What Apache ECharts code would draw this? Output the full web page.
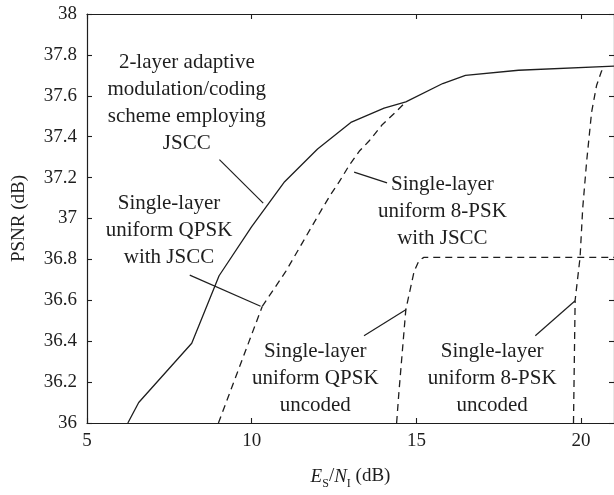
<!DOCTYPE html>
<html>
<head>
<meta charset="utf-8">
<script src="https://cdn.jsdelivr.net/npm/echarts@6/dist/echarts.min.js"></script>
<style>
  html, body { margin: 0; padding: 0; background: #fff; }
  #chart { width: 614px; height: 495px; }
</style>
</head>
<body>
<div id="chart"></div>
<script>
// Axis ranges (E_S/N_I in dB on x, PSNR in dB on y)
const xRange = [5, 21];
const xStep = 5;
const yRange = [36, 38];
const yStep = 0.2;

// 2-layer adaptive modulation/coding scheme employing JSCC
const adaptiveEsNi = [6.24, 6.57, 8.18, 9.01, 10.0, 11.0, 12.0, 13.01, 14.02, 14.68, 15.8, 16.49, 18.1, 21.0];
const adaptivePsnr = [36.0, 36.10, 36.39, 36.72, 36.96, 37.18, 37.34, 37.47, 37.54, 37.57, 37.66, 37.70, 37.725, 37.745];

// Single-layer uniform QPSK with JSCC
const qpskJsccEsNi = [8.99, 10.32];
const qpskJsccPsnr = [36.0, 36.57];

// Single-layer uniform 8-PSK with JSCC
const psk8JsccEsNi = [10.32, 11.03, 12.11, 12.41, 12.66, 12.96, 13.27, 13.57, 13.97, 14.37, 14.68];
const psk8JsccPsnr = [36.57, 36.74, 37.04, 37.12, 37.18, 37.26, 37.33, 37.38, 37.46, 37.52, 37.57];

// Single-layer uniform QPSK uncoded
const qpskUncodedEsNi = [14.40, 14.47, 14.68, 14.93, 15.08, 15.23, 21.0];
const qpskUncodedPsnr = [36.0, 36.15, 36.555, 36.74, 36.795, 36.81, 36.81];

// Single-layer uniform 8-PSK uncoded
const psk8UncodedEsNi = [19.77, 19.82, 19.97, 20.05, 20.17, 20.32, 20.47, 20.62, 20.72];
const psk8UncodedPsnr = [36.0, 36.6, 36.81, 37.05, 37.28, 37.52, 37.65, 37.72, 37.744];

// Curve annotations: text block centre and leader line, in data units
const notes = [
  { text: '2-layer adaptive\nmodulation/coding\nscheme employing\nJSCC', at: [8.03, 37.563], from: [9.02, 37.288], to: [10.35, 37.075] },
  { text: 'Single-layer\nuniform QPSK\nwith JSCC', at: [7.49, 36.942], from: [8.12, 36.723], to: [10.27, 36.571] },
  { text: 'Single-layer\nuniform 8-PSK\nwith JSCC', at: [15.79, 37.035], from: [13.11, 37.227], to: [14.11, 37.174] },
  { text: 'Single-layer\nuniform QPSK\nuncoded', at: [11.93, 36.219], from: [13.41, 36.427], to: [14.69, 36.555] },
  { text: 'Single-layer\nuniform 8-PSK\nuncoded', at: [17.30, 36.219], from: [18.61, 36.427], to: [19.82, 36.598] }
];

const zip = (xs, ys) => xs.map((x, i) => [x, ys[i]]);

const FONT = '"Liberation Serif", "DejaVu Serif", serif';
const INK = '#1e1e1e';

const chart = echarts.init(document.getElementById('chart'), null, { renderer: 'canvas' });

const axisLine = { show: true, lineStyle: { color: INK, width: 1.2 } };
const axisTick = { show: true, inside: true, length: 5, lineStyle: { color: INK, width: 1.1 } };

function lineSeries(name, xs, ys, dashed) {
  return {
    name: name,
    type: 'line',
    data: zip(xs, ys),
    symbol: 'none',
    smooth: false,
    clip: true,
    animation: false,
    lineStyle: { color: INK, width: 1.3, type: dashed ? [7, 5] : 'solid' },
    z: 3
  };
}

chart.setOption({
  animation: false,
  backgroundColor: '#fff',
  grid: { left: 87, right: -2, top: 14, bottom: 64, containLabel: false },
  xAxis: [
    {
      type: 'value', min: xRange[0], max: xRange[1], interval: xStep, position: 'bottom',
      axisLine: axisLine, axisTick: axisTick, splitLine: { show: false },
      axisLabel: { color: INK, fontFamily: FONT, fontSize: 19, margin: 9, showMaxLabel: false },
      name: '{i|E}{sub|S}{t|/}{i|N}{sub|I}{t| (dB)}',
      nameLocation: 'middle', nameGap: 41,
      nameTextStyle: {
        color: INK, fontFamily: FONT, fontSize: 19,
        rich: {
          i: { fontFamily: FONT, fontSize: 19, fontStyle: 'italic', color: INK, lineHeight: 22, verticalAlign: 'bottom' },
          sub: { fontFamily: FONT, fontSize: 12, color: INK, lineHeight: 22, verticalAlign: 'bottom', padding: [0, 0, -4, 0] },
          t: { fontFamily: FONT, fontSize: 19, color: INK, lineHeight: 22, verticalAlign: 'bottom' }
        }
      }
    },
    {
      type: 'value', min: xRange[0], max: xRange[1], interval: xStep, position: 'top',
      axisLine: axisLine, axisTick: axisTick, axisLabel: { show: false }, splitLine: { show: false }
    }
  ],
  yAxis: [
    {
      type: 'value', min: yRange[0], max: yRange[1], interval: yStep, position: 'left',
      axisLine: axisLine, axisTick: axisTick, splitLine: { show: false },
      axisLabel: { color: INK, fontFamily: FONT, fontSize: 19, margin: 10 },
      name: 'PSNR (dB)', nameLocation: 'middle', nameRotate: 90, nameGap: 58,
      nameTextStyle: { color: INK, fontFamily: FONT, fontSize: 19 }
    },
    {
      type: 'value', min: yRange[0], max: yRange[1], interval: yStep, position: 'right',
      axisLine: axisLine, axisTick: axisTick, axisLabel: { show: false }, splitLine: { show: false }
    }
  ],
  series: [
    lineSeries('2-layer adaptive', adaptiveEsNi, adaptivePsnr, false),
    lineSeries('QPSK with JSCC', qpskJsccEsNi, qpskJsccPsnr, true),
    lineSeries('8-PSK with JSCC', psk8JsccEsNi, psk8JsccPsnr, true),
    lineSeries('QPSK uncoded', qpskUncodedEsNi, qpskUncodedPsnr, true),
    lineSeries('8-PSK uncoded', psk8UncodedEsNi, psk8UncodedPsnr, true)
  ]
});

// Place the annotation texts and their leader lines through the axes' own scales
const toPx = (p) => chart.convertToPixel({ xAxisIndex: 0, yAxisIndex: 0 }, p);
const graphics = [];
notes.forEach((n) => {
  const c = toPx(n.at);
  const a = toPx(n.from);
  const b = toPx(n.to);
  graphics.push({
    type: 'text', x: c[0], y: c[1], z: 10,
    style: {
      text: n.text, fill: INK, font: '21px ' + FONT,
      textAlign: 'center', textVerticalAlign: 'middle', lineHeight: 27
    }
  });
  graphics.push({
    type: 'line', z: 10,
    shape: { x1: a[0], y1: a[1], x2: b[0], y2: b[1] },
    style: { stroke: INK, lineWidth: 1.2 }
  });
});
chart.setOption({ graphic: graphics });
</script>
</body>
</html>
